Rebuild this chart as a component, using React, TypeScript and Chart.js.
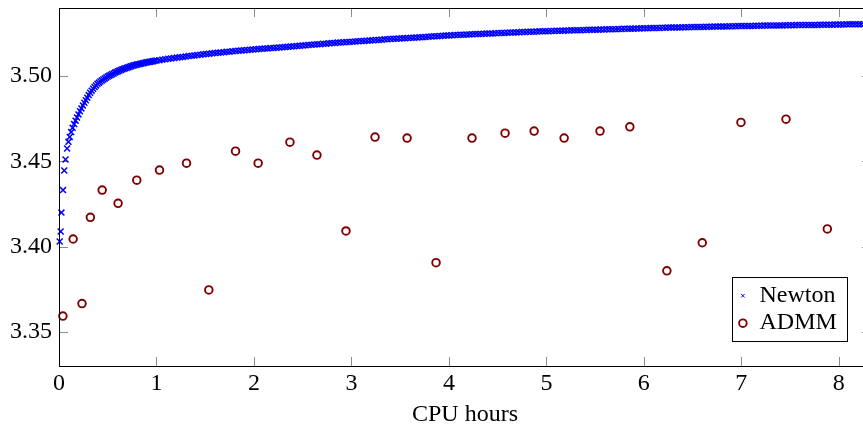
import React, { useEffect, useRef } from 'react';
import { Chart, registerables } from 'chart.js';

Chart.register(...registerables);

const FONT = "'Liberation Serif', 'Times New Roman', serif";

const seriesNames = ['Newton', 'ADMM'];
const xTitle = 'CPU hours';
const xTicks = [0, 1, 2, 3, 4, 5, 6, 7, 8];
const yTicks = [3.35, 3.4, 3.45, 3.5];
const xRange = [0, 8.33];
const yRange = [3.33, 3.54];

const admmHours = [
  0.04, 0.145, 0.236, 0.322, 0.443, 0.606, 0.798, 1.031, 1.308, 1.537, 1.811, 2.043, 2.369, 2.646, 2.944,
  3.242, 3.571, 3.868, 4.237, 4.576, 4.874, 5.182, 5.55, 5.856, 6.236, 6.599, 6.996, 7.458, 7.882,
];
const admmObjective = [
  3.3593, 3.4045, 3.3666, 3.4172, 3.4332, 3.4254, 3.439, 3.4449, 3.449, 3.3746, 3.456, 3.449, 3.4613, 3.4537,
  3.4092, 3.4643, 3.4637, 3.3906, 3.4637, 3.4666, 3.4678, 3.4637, 3.4678, 3.4703, 3.3858, 3.4023, 3.4729,
  3.4748, 3.4104,
];

// Newton iterates: [CPU hours, objective]
const newtonPoints: [number, number][] = [
  [0.007, 3.403], [0.017, 3.4089], [0.025, 3.42], [0.041, 3.4332], [0.054, 3.4447], [0.067, 3.4511],
  [0.083, 3.4576], [0.097, 3.4615], [0.11, 3.4644], [0.125, 3.4672], [0.14, 3.4697], [0.155, 3.4719],
  [0.17, 3.4739], [0.185, 3.4758], [0.2, 3.4776], [0.215, 3.4794], [0.23, 3.4811], [0.245, 3.4828],
  [0.26, 3.4844], [0.275, 3.4859], [0.29, 3.4874], [0.305, 3.4889], [0.32, 3.4903], [0.335, 3.4915],
  [0.35, 3.4926], [0.365, 3.4937], [0.38, 3.4946], [0.395, 3.4955], [0.41, 3.4962], [0.425, 3.4969],
  [0.44, 3.4975], [0.455, 3.4981], [0.47, 3.4987], [0.485, 3.4993], [0.5, 3.4998], [0.515, 3.5003],
  [0.53, 3.5007], [0.545, 3.5012], [0.56, 3.5016], [0.575, 3.5021], [0.59, 3.5025], [0.605, 3.5029],
  [0.62, 3.5033], [0.635, 3.5037], [0.65, 3.504], [0.665, 3.5043], [0.68, 3.5046], [0.695, 3.5049],
  [0.71, 3.5052], [0.725, 3.5055], [0.74, 3.5058], [0.755, 3.5061], [0.77, 3.5064], [0.785, 3.5066],
  [0.8, 3.5068], [0.815, 3.507], [0.83, 3.5072], [0.845, 3.5074], [0.86, 3.5076], [0.875, 3.5078],
  [0.89, 3.508], [0.905, 3.5082], [0.92, 3.5083], [0.935, 3.5085], [0.95, 3.5086], [0.965, 3.5088],
  [0.98, 3.509],
  [1.0, 3.5092], [1.03, 3.5094], [1.06, 3.5097], [1.09, 3.5099], [1.12, 3.5102], [1.15, 3.5104],
  [1.18, 3.5106], [1.21, 3.5109], [1.24, 3.5111], [1.27, 3.5113], [1.3, 3.5116], [1.33, 3.5118],
  [1.36, 3.512], [1.39, 3.5122], [1.42, 3.5124], [1.45, 3.5126], [1.48, 3.5128], [1.51, 3.513],
  [1.54, 3.5132], [1.57, 3.5134], [1.6, 3.5136], [1.63, 3.5138], [1.66, 3.5139], [1.69, 3.5141],
  [1.72, 3.5143], [1.75, 3.5144], [1.78, 3.5146], [1.81, 3.5148], [1.84, 3.5149], [1.87, 3.5151],
  [1.9, 3.5152], [1.93, 3.5154], [1.96, 3.5155], [1.99, 3.5157], [2.02, 3.5158], [2.05, 3.5159],
  [2.08, 3.5161], [2.11, 3.5162], [2.14, 3.5163], [2.17, 3.5165], [2.2, 3.5166], [2.23, 3.5167],
  [2.26, 3.5168], [2.29, 3.517], [2.32, 3.5171], [2.35, 3.5172], [2.38, 3.5174], [2.41, 3.5175],
  [2.44, 3.5177], [2.47, 3.5178], [2.5, 3.518], [2.53, 3.5181], [2.56, 3.5183], [2.59, 3.5184],
  [2.62, 3.5186], [2.65, 3.5187], [2.68, 3.5188], [2.71, 3.519], [2.74, 3.5191], [2.77, 3.5193],
  [2.8, 3.5194], [2.83, 3.5195], [2.86, 3.5197], [2.89, 3.5198], [2.92, 3.5199], [2.95, 3.52],
  [2.98, 3.5201], [3.01, 3.5202], [3.04, 3.5204], [3.07, 3.5205], [3.1, 3.5206], [3.13, 3.5207],
  [3.16, 3.5208], [3.19, 3.521], [3.22, 3.5211], [3.25, 3.5212], [3.28, 3.5213], [3.31, 3.5214],
  [3.34, 3.5216], [3.37, 3.5217], [3.4, 3.5218], [3.43, 3.5219], [3.46, 3.522], [3.49, 3.5221],
  [3.52, 3.5222], [3.55, 3.5223], [3.58, 3.5224], [3.61, 3.5225], [3.64, 3.5226], [3.67, 3.5227],
  [3.7, 3.5228], [3.73, 3.5229], [3.76, 3.523], [3.79, 3.5232], [3.82, 3.5233], [3.85, 3.5234],
  [3.88, 3.5235], [3.91, 3.5236], [3.94, 3.5237], [3.97, 3.5238], [4.0, 3.5239], [4.03, 3.524],
  [4.06, 3.5241], [4.09, 3.5242], [4.12, 3.5243], [4.15, 3.5243], [4.18, 3.5244], [4.21, 3.5245],
  [4.24, 3.5246], [4.27, 3.5247], [4.3, 3.5247], [4.33, 3.5248], [4.36, 3.5249], [4.39, 3.525],
  [4.42, 3.525], [4.45, 3.5251], [4.48, 3.5252], [4.51, 3.5253], [4.54, 3.5254], [4.57, 3.5254],
  [4.6, 3.5255], [4.63, 3.5256], [4.66, 3.5256], [4.69, 3.5257], [4.72, 3.5258], [4.75, 3.5259],
  [4.78, 3.5259], [4.81, 3.526], [4.84, 3.5261], [4.87, 3.5261], [4.9, 3.5262], [4.93, 3.5263],
  [4.96, 3.5263], [4.99, 3.5264], [5.02, 3.5264], [5.05, 3.5265], [5.08, 3.5265], [5.11, 3.5266],
  [5.14, 3.5266], [5.17, 3.5267], [5.2, 3.5268], [5.23, 3.5268], [5.26, 3.5269], [5.29, 3.5269],
  [5.32, 3.527], [5.35, 3.527], [5.38, 3.5271], [5.41, 3.5271], [5.44, 3.5272], [5.47, 3.5272],
  [5.5, 3.5273], [5.53, 3.5273], [5.56, 3.5274], [5.59, 3.5274], [5.62, 3.5275], [5.65, 3.5275],
  [5.68, 3.5276], [5.71, 3.5276], [5.74, 3.5277], [5.77, 3.5277], [5.8, 3.5278], [5.83, 3.5278],
  [5.86, 3.5279], [5.89, 3.5279], [5.92, 3.528], [5.95, 3.528], [5.98, 3.5281], [6.01, 3.5281],
  [6.04, 3.5281], [6.07, 3.5282], [6.1, 3.5282], [6.13, 3.5283], [6.16, 3.5283], [6.19, 3.5284],
  [6.22, 3.5284], [6.25, 3.5285], [6.28, 3.5285], [6.31, 3.5285], [6.34, 3.5286], [6.37, 3.5286],
  [6.4, 3.5287], [6.43, 3.5287], [6.46, 3.5287], [6.49, 3.5288], [6.52, 3.5288], [6.55, 3.5289],
  [6.58, 3.5289], [6.61, 3.5289], [6.64, 3.529], [6.67, 3.529], [6.7, 3.529], [6.73, 3.5291],
  [6.76, 3.5291], [6.79, 3.5291], [6.82, 3.5292], [6.85, 3.5292], [6.88, 3.5293], [6.91, 3.5293],
  [6.94, 3.5293], [6.97, 3.5294], [7.0, 3.5294], [7.03, 3.5294], [7.06, 3.5295], [7.09, 3.5295],
  [7.12, 3.5295], [7.15, 3.5296], [7.18, 3.5296], [7.21, 3.5296], [7.24, 3.5297], [7.27, 3.5297],
  [7.3, 3.5297], [7.33, 3.5297], [7.36, 3.5298], [7.39, 3.5298], [7.42, 3.5298], [7.45, 3.5299],
  [7.48, 3.5299], [7.51, 3.5299], [7.54, 3.5299], [7.57, 3.53], [7.6, 3.53], [7.63, 3.53],
  [7.66, 3.53], [7.69, 3.5301], [7.72, 3.5301], [7.75, 3.5301], [7.78, 3.5301], [7.81, 3.5302],
  [7.84, 3.5302], [7.87, 3.5302], [7.9, 3.5302], [7.93, 3.5302], [7.96, 3.5303], [7.99, 3.5303],
  [8.02, 3.5303], [8.05, 3.5303], [8.08, 3.5304], [8.11, 3.5304], [8.14, 3.5304], [8.17, 3.5304],
  [8.2, 3.5304], [8.23, 3.5305], [8.26, 3.5305], [8.29, 3.5305], [8.32, 3.5305],
];

const NEWTON_COLOR = '#0000ff';
const ADMM_COLOR = '#800000';

const framePlugin = {
  id: 'pgfFrame',
  afterDatasetsDraw(chart: any) {
    const { ctx, chartArea: a, scales } = chart;
    const tl = 9;
    ctx.save();
    ctx.strokeStyle = 'rgba(0,0,0,0.45)';
    ctx.lineWidth = 1;
    ctx.beginPath();
    scales.x.ticks.forEach((t: any) => {
      const px = Math.round(scales.x.getPixelForValue(t.value)) + 0.5;
      ctx.moveTo(px, a.bottom);
      ctx.lineTo(px, a.bottom - tl);
      ctx.moveTo(px, a.top);
      ctx.lineTo(px, a.top + tl);
    });
    scales.y.ticks.forEach((t: any) => {
      const py = Math.round(scales.y.getPixelForValue(t.value)) + 0.5;
      ctx.moveTo(a.left, py);
      ctx.lineTo(a.left + tl, py);
      ctx.moveTo(a.right, py);
      ctx.lineTo(a.right - tl, py);
    });
    ctx.stroke();
    ctx.strokeStyle = '#000';
    ctx.lineWidth = 1;
    ctx.strokeRect(
      Math.round(a.left) + 0.5,
      Math.round(a.top) + 0.5,
      Math.round(a.right - a.left),
      Math.round(a.bottom - a.top)
    );
    ctx.restore();
  },
  afterDraw(chart: any) {
    const { ctx, chartArea: a } = chart;
    const ds = chart.data.datasets;
    ctx.save();
    ctx.font = `24px ${FONT}`;
    const textW = Math.max(...ds.map((d: any) => ctx.measureText(d.label).width));
    const padL = 10.4;
    const gap = 16.6;
    const padR = 11;
    const rowH = 27.5;
    const padT = 18.2;
    const w = padL + gap + textW + padR;
    const h = 64.4;
    const right = a.right - 24;
    const bottom = a.bottom - 24.3;
    const left = Math.round(right - w) + 0.5;
    const top = Math.round(bottom - h) + 0.5;
    ctx.fillStyle = '#fff';
    ctx.fillRect(left, top, w, h);
    ctx.strokeStyle = '#000';
    ctx.lineWidth = 1;
    ctx.strokeRect(left, top, Math.round(w), Math.round(h));
    ds.forEach((d: any, i: number) => {
      const cy = top + padT + i * rowH;
      const cx = left + padL;
      ctx.strokeStyle = d.borderColor;
      if (d.pointStyle === 'crossRot') {
        const s = 1.8;
        ctx.lineWidth = 1;
        ctx.beginPath();
        ctx.moveTo(cx - s, cy - s);
        ctx.lineTo(cx + s, cy + s);
        ctx.moveTo(cx - s, cy + s);
        ctx.lineTo(cx + s, cy - s);
        ctx.stroke();
      } else {
        ctx.lineWidth = d.borderWidth;
        ctx.beginPath();
        ctx.arc(cx, cy, d.pointRadius, 0, Math.PI * 2);
        ctx.stroke();
      }
      ctx.fillStyle = '#000';
      ctx.textAlign = 'left';
      ctx.textBaseline = 'middle';
      ctx.fillText(d.label, left + padL + gap, cy);
    });
    ctx.restore();
  },
};

export default function App() {
  const canvasRef = useRef<HTMLCanvasElement | null>(null);

  useEffect(() => {
    const canvas = canvasRef.current;
    if (!canvas) return;
    const tickFont = { family: FONT, size: 24 };
    const chart = new Chart(canvas, {
      type: 'scatter',
      data: {
        datasets: [
          {
            label: seriesNames[0],
            data: newtonPoints.map(([x, y]) => ({ x, y })),
            pointStyle: 'crossRot',
            pointRadius: 4.2,
            pointHoverRadius: 4.2,
            borderWidth: 1.5,
            borderColor: NEWTON_COLOR,
            backgroundColor: NEWTON_COLOR,
            clip: false,
          } as any,
          {
            label: seriesNames[1],
            data: admmHours.map((x, i) => ({ x, y: admmObjective[i] })),
            pointStyle: 'circle',
            pointRadius: 3.8,
            pointHoverRadius: 3.8,
            borderWidth: 1.9,
            borderColor: ADMM_COLOR,
            backgroundColor: 'rgba(0,0,0,0)',
            clip: false,
          } as any,
        ],
      },
      options: {
        animation: false,
        responsive: false,
        events: [],
        layout: { padding: { left: 0, top: 8, right: 9, bottom: 0 } },
        plugins: { legend: { display: false }, tooltip: { enabled: false } },
        scales: {
          x: {
            type: 'linear',
            min: xRange[0],
            max: xRange[1],
            grid: { display: false, drawTicks: false },
            border: { display: false },
            afterBuildTicks: (s: any) => {
              s.ticks = xTicks.map((v) => ({ value: v }));
            },
            afterFit: (s: any) => {
              s.height = 64;
              s.paddingLeft = 0;
              s.paddingRight = 0;
            },
            ticks: {
              color: '#000',
              font: tickFont,
              padding: 3,
              maxRotation: 0,
              autoSkip: false,
              callback: (v: any) => String(v),
            },
            title: {
              display: true,
              text: xTitle,
              color: '#000',
              font: tickFont,
              padding: { top: 0, bottom: 1 },
            },
          },
          y: {
            type: 'linear',
            min: yRange[0],
            max: yRange[1],
            grid: { display: false, drawTicks: false },
            border: { display: false },
            afterBuildTicks: (s: any) => {
              s.ticks = yTicks.map((v) => ({ value: v }));
            },
            afterFit: (s: any) => {
              s.width = 59;
              s.paddingTop = 0;
              s.paddingBottom = 0;
            },
            ticks: {
              color: '#000',
              font: tickFont,
              padding: 7,
              autoSkip: false,
              callback: (v: any) => Number(v).toFixed(2),
            },
          },
        },
      } as any,
      plugins: [framePlugin],
    });
    return () => chart.destroy();
  }, []);

  return (
    <div
      style={{
        position: 'fixed',
        left: 0,
        top: 0,
        width: 863,
        height: 430,
        overflow: 'hidden',
        background: '#fff',
      }}
    >
      <canvas ref={canvasRef} width={880} height={430} style={{ display: 'block' }} />
    </div>
  );
}
